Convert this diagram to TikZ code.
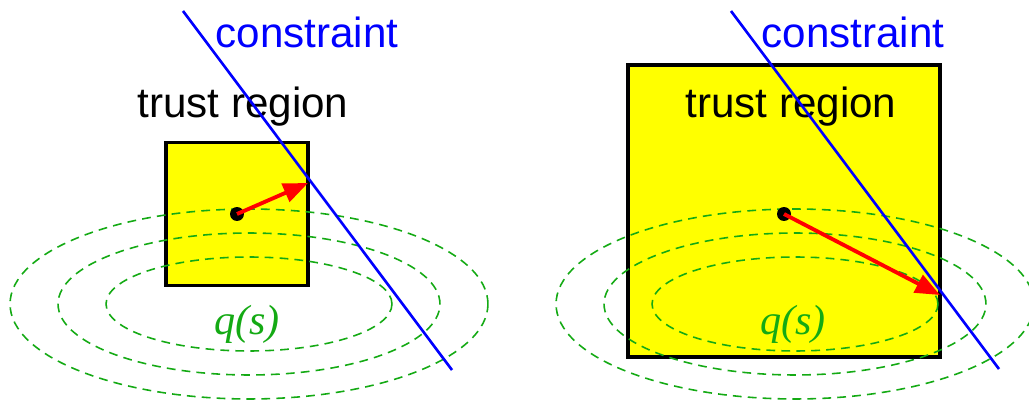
\documentclass[tikz,border=0pt]{standalone}
\usepackage{fontspec}
\setmainfont{Liberation Sans}
\newfontfamily\qsfont{Liberation Serif}
\usetikzlibrary{arrows.meta}
\definecolor{levelgreen}{RGB}{20,170,20}
\definecolor{trustyellow}{RGB}{255,255,0}

\begin{document}
\begin{tikzpicture}[x=0.02cm,y=-0.02cm,
    trbox/.style={draw,line width=2pt,fill=trustyellow,inner sep=0pt},
    level/.style={levelgreen,dash pattern=on 5pt off 3.5pt,line width=0.9pt},
    cons/.style={blue,line width=1.5pt},
    stepvec/.style={red,line width=2.2pt,-{Triangle[length=14pt,width=11pt]}},
    iterate/.style={circle,fill=black,inner sep=0pt,minimum size=0.28cm},
    lbl/.style={font=\fontsize{24}{28}\selectfont,anchor=base},
    qlbl/.style={levelgreen,anchor=base,font=\fontsize{24}{28}\selectfont\qsfont\itshape}]
  \useasboundingbox (0,0) rectangle (1029,402);
  % left: small trust region
  \node[trbox,minimum width=2.84cm,minimum height=2.86cm] (R1) at (237,214) {};
  \foreach \rx/\ry in {2.86/0.94,3.82/1.42,4.78/1.90}
    \draw[level] (249,304) ellipse [x radius=\rx cm,y radius=\ry cm];
  \node[lbl] (TR1) at (243,118) {trust region};
  \node[lbl,blue] (C1) at (307,48) {constraint};
  \node[qlbl] (Q1) at (247,335) {q(s)};
  \coordinate (c1a) at (183,11);
  \coordinate (c1b) at (452,370);
  \draw[cons] (c1a) -- (c1b);
  \node[iterate] (x1) at (237,214) {};
  \coordinate (s1) at (308,183);
  \draw[stepvec] (x1.center) -- (s1);

  % right: large trust region
  \node[trbox,minimum width=6.24cm,minimum height=5.84cm] (R2) at (784,211) {};
  \foreach \rx/\ry in {2.86/0.94,3.82/1.42,4.78/1.90}
    \draw[level] (795,304) ellipse [x radius=\rx cm,y radius=\ry cm];
  \node[lbl] (TR2) at (791,118) {trust region};
  \node[lbl,blue] (C2) at (853,48) {constraint};
  \node[qlbl] (Q2) at (793,335) {q(s)};
  \coordinate (c2a) at (731,11);
  \coordinate (c2b) at (999,369);
  \draw[cons] (c2a) -- (c2b);
  \node[iterate] (x2) at (784,214) {};
  \coordinate (s2) at (940,295);
  \draw[stepvec] (x2.center) -- (s2);
\end{tikzpicture}
\end{document}
